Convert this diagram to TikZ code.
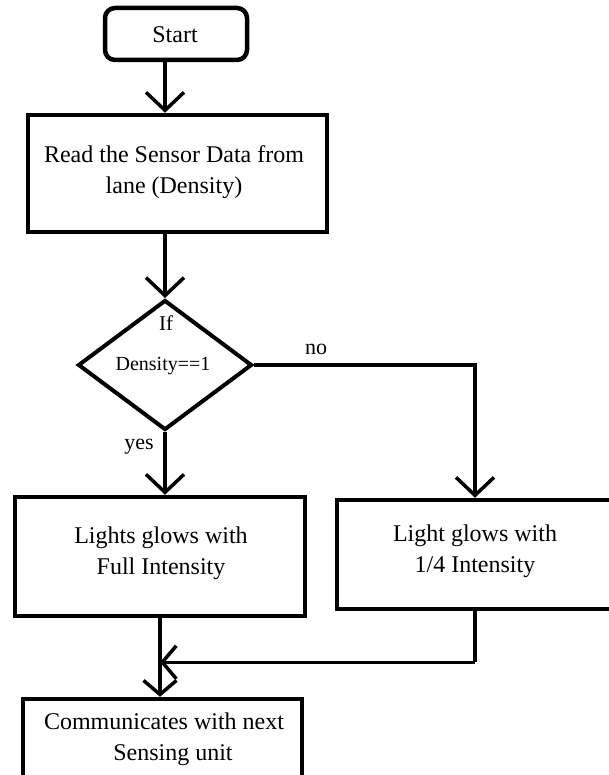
\documentclass[tikz,border=0pt]{standalone}
\usepackage{fontspec}
\setmainfont{Liberation Serif}
\usetikzlibrary{shapes.geometric,arrows.meta}
\begin{document}
\begin{tikzpicture}[x=1pt,y=-1pt,
  box/.style={draw, line width=4.5pt, inner sep=0pt, align=center,
    font=\fontsize{24}{31}\selectfont},
  txt/.style={inner sep=0pt, align=center, font=\fontsize{24}{31}\selectfont},
  lbl/.style={inner sep=0pt, font=\fontsize{22}{26}\selectfont},
  flow/.style={line width=3.5pt, -{Straight Barb[length=18pt,width=38pt]}},
  smallflow/.style={line width=3.5pt, -{Straight Barb[length=14pt,width=33pt]}},
  plain/.style={line width=3.5pt}]
\useasboundingbox (0,0) rectangle (609,775);
\fill[white] (0,0) rectangle (609,775);

\node[box, rounded corners=10pt, minimum width=142pt, minimum height=52pt] (start) at (176,34) {};
\node[txt] (starttext) at (175,35) {Start};

\node[box, minimum width=299pt, minimum height=117pt] (read) at (177.5,173.5) {};
\node[txt] (readtext) at (174,172) {Read the Sensor Data from\\lane (Density)};

\node[draw, diamond, line width=4pt, inner sep=0pt, minimum width=174pt, minimum height=130pt] (dec) at (165,365) {};
\node[txt, font=\fontsize{21}{24}\selectfont] (iftext) at (166,323) {If};
\node[txt, font=\fontsize{20}{24}\selectfont] (dentext) at (163,366) {Density==1};

\node[box, minimum width=290pt, minimum height=119pt] (full) at (160,556.5) {};
\node[txt] (fulltext) at (161,553) {Lights glows with\\Full Intensity};

\node[box, minimum width=276pt, minimum height=109pt] (quarter) at (475,554.5) {};
\node[txt] (quartertext) at (475,551) {Light glows with\\1/4 Intensity};

\node[box, minimum width=279pt, minimum height=92pt] (comm) at (162.5,745) {};
\node[txt] (commtext) at (164,739) {Communicates with next\\\hspace*{18pt}Sensing unit};

\node[lbl] (no) at (316,349) {no};
\node[lbl] (yes) at (139,447) {yes};

\draw[flow] (start.south -| 165,0) -- (read.north -| 165,0);
\draw[flow] (read.south -| dec.north) -- (dec.north);
\draw[flow] (dec.south) -- (full.north -| dec.south);
\draw[flow] (dec.east) -- (dec.east -| quarter.north) -- (quarter.north);
\coordinate (m) at ([yshift=-51pt]quarter.south);
\draw[plain] (quarter.south) -- (m);
\draw[smallflow] (m) -- (m -| full.south);
\draw[smallflow] (full.south) -- (full.south |- comm.north);
\end{tikzpicture}
\end{document}
